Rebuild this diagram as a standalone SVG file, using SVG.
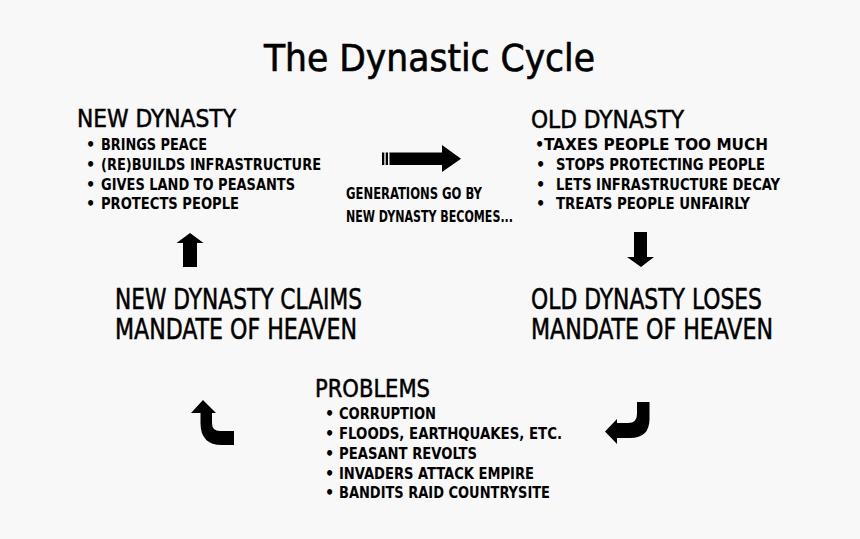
<svg xmlns="http://www.w3.org/2000/svg" width="860" height="539" viewBox="0 0 860 539">
<style>
text{font-family:"DejaVu Sans Condensed","DejaVu Sans",sans-serif;fill:#000}
.title{font-size:37px;stroke:#000;stroke-width:0.6px}
.h{font-size:25px;stroke:#000;stroke-width:0.5px}
.m{font-size:29px;stroke:#000;stroke-width:0.5px}
.i{font-size:16px;font-weight:bold}
.g{font-size:16px;font-weight:bold}
.arrow{fill:#000}
</style>
<rect width="860" height="539" fill="#f8f8f8"/>
<g id="title">
<text class="title" x="264" y="71" textLength="331" lengthAdjust="spacingAndGlyphs">The Dynastic Cycle</text>
</g>
<g id="new-dynasty">
<text class="h" x="77" y="127" textLength="159" lengthAdjust="spacingAndGlyphs">NEW DYNASTY</text>
<text class="i" x="86" y="150">•</text><text class="i" x="101" y="150" textLength="106" lengthAdjust="spacingAndGlyphs">BRINGS PEACE</text>
<text class="i" x="86" y="170">•</text><text class="i" x="101" y="170" textLength="220" lengthAdjust="spacingAndGlyphs">(RE)BUILDS INFRASTRUCTURE</text>
<text class="i" x="86" y="190">•</text><text class="i" x="101" y="190" textLength="194" lengthAdjust="spacingAndGlyphs">GIVES LAND TO PEASANTS</text>
<text class="i" x="86" y="208.5">•</text><text class="i" x="101" y="208.5" textLength="138" lengthAdjust="spacingAndGlyphs">PROTECTS PEOPLE</text>
</g>
<g id="old-dynasty">
<text class="h" x="531" y="127.5" textLength="153" lengthAdjust="spacingAndGlyphs">OLD DYNASTY</text>
<text class="i" x="535" y="150">•</text><text class="i" x="544" y="150" textLength="224" lengthAdjust="spacingAndGlyphs">TAXES PEOPLE TOO MUCH</text>
<text class="i" x="536" y="170">•</text><text class="i" x="556" y="170" textLength="209" lengthAdjust="spacingAndGlyphs">STOPS PROTECTING PEOPLE</text>
<text class="i" x="536" y="190">•</text><text class="i" x="556" y="190" textLength="224" lengthAdjust="spacingAndGlyphs">LETS INFRASTRUCTURE DECAY</text>
<text class="i" x="536" y="208.5">•</text><text class="i" x="556" y="208.5" textLength="194" lengthAdjust="spacingAndGlyphs">TREATS PEOPLE UNFAIRLY</text>
</g>
<g id="generations">
<text class="g" x="346" y="198.5" textLength="136" lengthAdjust="spacingAndGlyphs">GENERATIONS GO BY</text>
<text class="g" x="346" y="221.5" textLength="167" lengthAdjust="spacingAndGlyphs">NEW DYNASTY BECOMES...</text>
</g>
<g id="claims">
<text class="m" x="115" y="308.5" textLength="247" lengthAdjust="spacingAndGlyphs">NEW DYNASTY CLAIMS</text>
<text class="m" x="115" y="338.5" textLength="242" lengthAdjust="spacingAndGlyphs">MANDATE OF HEAVEN</text>
</g>
<g id="loses">
<text class="m" x="531" y="308.5" textLength="231" lengthAdjust="spacingAndGlyphs">OLD DYNASTY LOSES</text>
<text class="m" x="531" y="338.5" textLength="242" lengthAdjust="spacingAndGlyphs">MANDATE OF HEAVEN</text>
</g>
<g id="problems">
<text class="h" x="315" y="397" textLength="115" lengthAdjust="spacingAndGlyphs">PROBLEMS</text>
<text class="i" x="325" y="419">•</text><text class="i" x="339" y="419" textLength="97" lengthAdjust="spacingAndGlyphs">CORRUPTION</text>
<text class="i" x="325" y="438.5">•</text><text class="i" x="339" y="438.5" textLength="223" lengthAdjust="spacingAndGlyphs">FLOODS, EARTHQUAKES, ETC.</text>
<text class="i" x="325" y="459">•</text><text class="i" x="339" y="459" textLength="138" lengthAdjust="spacingAndGlyphs">PEASANT REVOLTS</text>
<text class="i" x="325" y="478.5">•</text><text class="i" x="339" y="478.5" textLength="195" lengthAdjust="spacingAndGlyphs">INVADERS ATTACK EMPIRE</text>
<text class="i" x="325" y="498">•</text><text class="i" x="339" y="498" textLength="211" lengthAdjust="spacingAndGlyphs">BANDITS RAID COUNTRYSITE</text>
</g>
<g id="connectors">
<g class="arrow">
<rect x="382" y="152.5" width="2.3" height="12.5"/>
<rect x="385.7" y="152.5" width="2.3" height="12.5"/>
<path d="M389.5,152.5 L442,152.5 L442,145 L461,158.7 L442,172 L442,165 L389.5,165 Z"/>
</g>
<path class="arrow" d="M190,233 L203.5,243 L197,243 L197,267 L183,267 L183,243 L176.5,243 Z"/>
<path class="arrow" d="M634,232 L647,232 L647,257 L654,257 L641,267 L627,257 L634,257 Z"/>
<path class="arrow" d="M203,400 L216,413 L212,413 L212,423 Q212,431 220,431 L234,431 L234,445 L222,445 Q200.5,445 200.5,423 L200.5,413 L191,413 Z"/>
<path class="arrow" d="M649.5,402 L649.5,419 Q649.5,438 630,438 L617,438 L617,444 L605,431.5 L617,419 L617,423 L628,423 Q637,423 637,414 L637,402 Z"/>
</g>
</svg>
